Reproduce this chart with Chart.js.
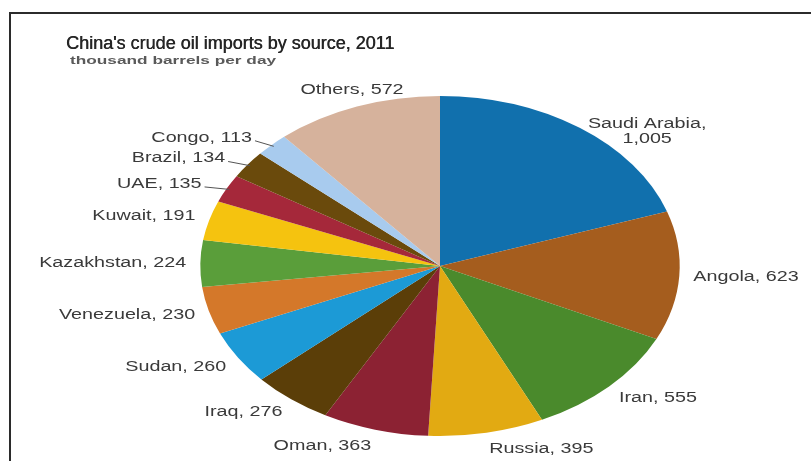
<!DOCTYPE html>
<html>
<head>
<meta charset="utf-8">
<script src="https://cdn.jsdelivr.net/npm/chart.js@4/dist/chart.umd.min.js"></script>
<style>
  html, body { margin: 0; padding: 0; background: #fff; }
  canvas { display: block; }
</style>
</head>
<body>
<canvas id="c" width="811" height="461"></canvas>
<script>
// ---- data ----
const chartTitle = "China's crude oil imports by source, 2011";
const chartSubtitle = "thousand barrels per day";
const categories = ['Saudi Arabia', 'Angola', 'Iran', 'Russia', 'Oman', 'Iraq', 'Sudan',
  'Venezuela', 'Kazakhstan', 'Kuwait', 'UAE', 'Brazil', 'Congo', 'Others'];
const imports = [1005, 623, 555, 395, 363, 276, 260, 230, 224, 191, 135, 134, 113, 572];
const sliceColors = ['#1170ad', '#a55d1e', '#4a8a2c', '#e2aa12', '#8c2233', '#5b3e08', '#1c9ad6',
  '#d4782a', '#5a9e3a', '#f5c30f', '#a5283a', '#6a4a0c', '#a8cbee', '#d6b29c'];

// ---- style ----
const SX = 1.41;           // horizontal stretch of the pie (elliptical look)
const LABEL_FONT = '14px "Liberation Sans", Arial, sans-serif';
const LABEL_COLOR = '#3a3a3a';

const framePlugin = {
  id: 'frame',
  beforeDraw(chart) {
    const ctx = chart.ctx;
    ctx.save();
    ctx.fillStyle = '#fff';
    ctx.fillRect(0, 0, chart.width, chart.height);
    ctx.strokeStyle = '#2b2b2b';
    ctx.lineWidth = 2;
    ctx.beginPath();
    ctx.moveTo(10, chart.height);
    ctx.lineTo(10, 13);
    ctx.lineTo(chart.width, 13);
    ctx.stroke();
    // title
    ctx.fillStyle = '#262626';
    ctx.font = '18px "Liberation Sans", Arial, sans-serif';
    ctx.textAlign = 'left';
    ctx.textBaseline = 'alphabetic';
    ctx.fillText(chartTitle, 66, 49);
    ctx.fillText(chartTitle, 66.4, 49);
    // subtitle (stretched)
    ctx.translate(70, 64);
    ctx.scale(1.5, 1);
    ctx.fillStyle = '#5a5a5a';
    ctx.font = 'bold 11.5px "Liberation Sans", Arial, sans-serif';
    ctx.fillText(chartSubtitle, 0, 0);
    ctx.restore();
  }
};

const stretchPlugin = {
  id: 'stretch',
  beforeDatasetsDraw(chart) {
    const arc = chart.getDatasetMeta(0).data[0];
    const ctx = chart.ctx;
    ctx.save();
    ctx.translate(arc.x, arc.y);
    ctx.scale(SX, 1);
    ctx.translate(-arc.x, -arc.y);
  },
  afterDatasetsDraw(chart) {
    chart.ctx.restore();
  }
};

const labelPlugin = {
  id: 'sliceLabels',
  afterDraw(chart) {
    const ctx = chart.ctx;
    const meta = chart.getDatasetMeta(0);
    const values = chart.data.datasets[0].data;
    const total = values.reduce((a, b) => a + b, 0);
    ctx.save();
    ctx.font = LABEL_FONT;
    ctx.fillStyle = LABEL_COLOR;
    ctx.textBaseline = 'middle';
    const lh = 15;
    meta.data.forEach((arc, i) => {
      const v = values[i];
      const name = chart.data.labels[i];
      const valTxt = v.toLocaleString('en-US');
      const lines = name.indexOf(' ') >= 0 ? [name + ',', valTxt] : [name + ', ' + valTxt];
      const mid = (arc.startAngle + arc.endAngle) / 2;
      const c = Math.cos(mid), s = Math.sin(mid);
      const r = arc.outerRadius;
      const small = v / total < 0.03;
      const ex = arc.x + SX * r * c, ey = arc.y + r * s;   // edge point
      let ax, ay;
      if (small) {
        const d = 20;
        ax = ex + SX * d * c;
        ay = ey + d * s * 0.5;
      } else {
        const d = 10;
        ax = arc.x + SX * (r + d) * c;
        ay = arc.y + (r + d) * s;
        ay += (lines.length === 1 ? 7 : -15) * s;
      }
      const align = s < -0.9 ? 'center' : (c >= 0 ? 'left' : 'right');
      if (small) {
        ctx.save();
        ctx.strokeStyle = '#555';
        ctx.lineWidth = 1;
        ctx.beginPath();
        ctx.moveTo(ex - SX * 2 * c, ey - 2 * s);
        ctx.lineTo(ax + (c < 0 ? 3 : -3), ay + 3);
        ctx.stroke();
        ctx.restore();
      }
      const maxW = Math.max(...lines.map(t => ctx.measureText(t).width));
      const left = align === 'left' ? 0 : (align === 'right' ? -maxW : -maxW / 2);
      ctx.save();
      ctx.translate(ax, ay);
      ctx.scale(SX, 1);
      ctx.textAlign = 'center';
      const y0 = -(lines.length - 1) * lh / 2;
      lines.forEach((t, k) => ctx.fillText(t, left + maxW / 2, y0 + k * lh));
      ctx.restore();
    });
    ctx.restore();
  }
};

new Chart(document.getElementById('c'), {
  type: 'pie',
  data: {
    labels: categories,
    datasets: [{
      data: imports,
      backgroundColor: sliceColors,
      borderWidth: 0
    }]
  },
  options: {
    responsive: false,
    devicePixelRatio: 1,
    animation: false,
    layout: { padding: { left: 270, right: 201, top: 96, bottom: 25 } },
    plugins: {
      legend: { display: false },
      tooltip: { enabled: false },
      title: { display: false }
    },
    events: []
  },
  plugins: [framePlugin, stretchPlugin, labelPlugin]
});
</script>
</body>
</html>
